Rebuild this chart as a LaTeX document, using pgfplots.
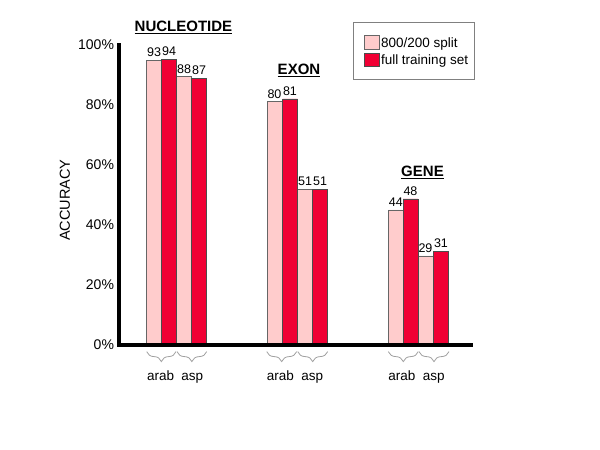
\documentclass[border=0pt]{standalone}
\usepackage{fontspec}
\setmainfont{Liberation Sans}
\usepackage{pgfplots}
\pgfplotsset{compat=1.18}
\usetikzlibrary{decorations.pathreplacing}
\definecolor{lpink}{RGB}{255,204,204}
\definecolor{cred}{RGB}{240,0,52}
\definecolor{bgray}{RGB}{160,160,160}
\tikzset{brc/.style={bgray, line width=0.8bp, decorate, decoration={brace, mirror, amplitude=10bp}}}
\begin{document}
\begin{tikzpicture}
\begin{axis}[
  x=1bp, y=3bp,
  xmin=119, xmax=471, ymin=0, ymax=100,
  axis x line=bottom, axis y line=left,
  axis line style={-, line width=4bp, line cap=rect},
  axis on top,
  clip=false,
  ytick={0,20,40,60,80,100},
  yticklabels={0\%,20\%,40\%,60\%,80\%,100\%},
  xtick={160.7,192.3,280.3,312.3,402,433.7},
  xticklabels={arab,asp,arab,asp,arab,asp},
  major tick length=0pt,
  tick style={draw=none},
  yticklabel style={font=\fontsize{14bp}{16bp}\selectfont, xshift=-1.5bp},
  xticklabel style={font=\fontsize{13.5bp}{16bp}\selectfont, anchor=base, yshift=-35bp},
  ylabel={ACCURACY},
  ylabel style={font=\fontsize{14.5bp}{17bp}\selectfont, at={(rel axis cs:-0.1534,0.483)}, anchor=center},
  nodes near coords,
  point meta=explicit symbolic,
  every node near coord/.append style={font=\fontsize{12.5bp}{15bp}\selectfont, inner sep=0pt, anchor=south, yshift=3bp, text=black},
  legend image code/.code={\path[draw=none,fill=none] (0bp,0bp) rectangle (4bp,0.1bp); \draw[#1] (4bp,-6.65bp) rectangle (19bp,6.65bp);},
  legend style={at={(axis cs:352.7,107.8)}, anchor=north west, draw=gray, line width=0.8bp,
    inner xsep=6.7bp, inner ysep=13.3bp, row sep=3.4bp, column sep=1.9bp,
    font=\fontsize{13.5bp}{16bp}\selectfont,
    nodes={inner sep=0pt, text height=9.8bp, text depth=0pt}},
  legend cell align=left,
]
\addplot[ybar, bar width=15, bar shift=0, fill=lpink, draw=black!60, line width=0.6bp]
  coordinates {(154.2,94.9) [93] (184.2,89.4) [88] (274.5,81.1) [80] (305.2,51.9) [51] (395.8,45.0) [44] (425.5,29.7) [29]};
\addlegendentry{800/200 split}
\addplot[ybar, bar width=15, bar shift=0, fill=cred, draw=black!70, line width=0.6bp]
  coordinates {(169.2,95.3) [94] (199.2,88.9) [87] (290.0,82.0) [81] (320.2,51.9) [51] (410.5,48.7) [48] (441.0,31.3) [31]};
\addlegendentry{full training set}

\draw[brc] (axis cs:146.7,-2.2) -- (axis cs:176,-2.2);
\draw[brc] (axis cs:177,-2.2) -- (axis cs:206.7,-2.2);
\draw[brc] (axis cs:266.7,-2.2) -- (axis cs:296.7,-2.2);
\draw[brc] (axis cs:297.7,-2.2) -- (axis cs:327.7,-2.2);
\draw[brc] (axis cs:388.3,-2.2) -- (axis cs:418.3,-2.2);
\draw[brc] (axis cs:419,-2.2) -- (axis cs:449,-2.2);
\node[anchor=base, font=\fontsize{15bp}{18bp}\selectfont\bfseries] at (axis cs:183.5,104.4) {\underline{NUCLEOTIDE}};
\node[anchor=base, font=\fontsize{15bp}{18bp}\selectfont\bfseries] at (axis cs:299,90) {\underline{EXON}};
\node[anchor=base, font=\fontsize{15bp}{18bp}\selectfont\bfseries] at (axis cs:422.5,56.1) {\underline{GENE}};
\coordinate (O) at (axis cs:119,0);
\end{axis}
\pgfresetboundingbox
\useasboundingbox ([shift={(-119bp,-105bp)}]O) rectangle ([shift={(481bp,345bp)}]O);
\end{tikzpicture}
\end{document}
